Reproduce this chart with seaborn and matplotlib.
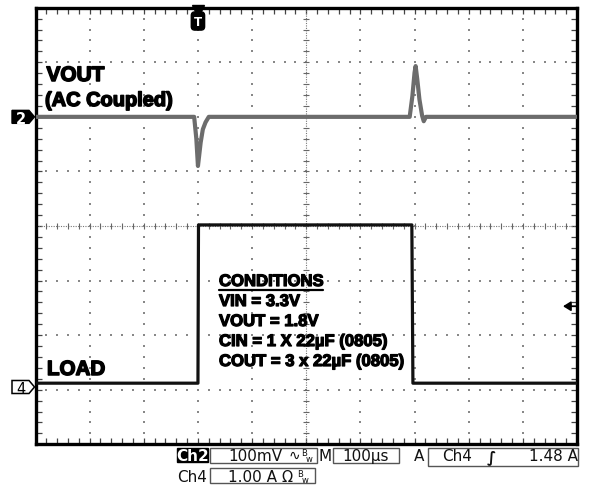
import numpy as np
import pandas as pd
import seaborn as sns
import matplotlib
matplotlib.use("Agg")
import matplotlib.pyplot as plt
from matplotlib.patches import Rectangle, Polygon
from matplotlib.lines import Line2D
import matplotlib.transforms as mtrans
import matplotlib.patheffects as pe

# ---------------- data ----------------
time_per_div_us = 100          # M 100us
ch2_mv_per_div = 100           # Ch2 100mV
ch4_a_per_div = 1.0            # Ch4 1.00 A
ch2_ref_div = 2.0              # ref marker "2"
ch4_ref_div = -2.95            # ref marker "4"
trigger_level_a = 1.48         # A Ch4 rising 1.48 A
x_range_us = [-300, 700]

vout_t_us = [-300, -7, -3, 0, 2, 5, 9, 14, 20, 391, 396, 400, 402, 405, 409, 414, 417, 421, 700]
vout_mv = [0, 0, -40, -90, -73, -47, -23, -10, 0, 0, 38, 81, 93, 69, 32, 2, -8, 0, 0]

load_t_us = [-300, 0, 1, 395, 397, 700]
load_a = [0.07, 0.07, 2.97, 2.97, 0.07, 0.07]

vout_label = ["VOUT", "(AC Coupled)"]
load_label = "LOAD"
cond_title = "CONDITIONS"
cond_lines = ["VIN = 3.3V", "VOUT = 1.8V", "CIN = 1 X 22\u00b5F (0805)", "COUT = 3 x 22\u00b5F (0805)"]

status_ch2 = ["Ch2", "100mV"]
status_time = ["M", "100\u00b5s"]
status_trig = ["A", "Ch4", "1.48 A"]
status_ch4 = ["Ch4", "1.00 A"]

# ---------------- figure ----------------
sns.set_style("white")
plt.rcParams["font.family"] = ["DejaVu Sans"]
W, H = 597, 489
fig = plt.figure(figsize=(W / 100, H / 100), dpi=100)
fig.patch.set_facecolor("white")

L, R, T, B = 35.5, 577.0, 8.7, 445.3
ax = fig.add_axes([L / W, 1 - B / H, (R - L) / W, (B - T) / H])
ax.set_facecolor("white")

def P(px, py):
    return (px / W, 1 - py / H)

xmin, xmax = x_range_us
ax.set_xlim(xmin, xmax)
ax.set_ylim(-4, 4)

# graticule dots
maj_x = np.arange(xmin + time_per_div_us, xmax, time_per_div_us)
maj_y = np.arange(-3, 4, 1)
min_x = np.arange(xmin, xmax + 0.1, time_per_div_us / 5)
min_y = np.arange(-4, 4.01, 0.2)
cx = (xmin + xmax) / 2
gx, gy = [], []
for xv in maj_x:
    if abs(xv - cx) < 1e-6:
        continue
    gx += [xv] * len(min_y)
    gy += list(min_y)
for yv in maj_y:
    if yv == 0:
        continue
    gx += list(min_x)
    gy += [yv] * len(min_x)
ax.scatter(gx, gy, s=1.8, marker="s", color="#888888", linewidths=0, zorder=1)

# center cross with tick marks
ax.axhline(0, ls=(0, (1, 1.2)), lw=0.8, color="#777777", zorder=1)
ax.axvline(cx, ls=(0, (1, 1.2)), lw=0.8, color="#777777", zorder=1)
ax.scatter(min_x, np.zeros_like(min_x), marker="|", s=22, color="#666666", linewidths=0.8, zorder=1)
ax.scatter(np.full_like(min_y, cx), min_y, marker="_", s=22, color="#666666", linewidths=0.8, zorder=1)

# traces
df_v = pd.DataFrame({"t": vout_t_us, "div": ch2_ref_div + np.array(vout_mv) / ch2_mv_per_div})
df_l = pd.DataFrame({"t": load_t_us, "div": ch4_ref_div + np.array(load_a) / ch4_a_per_div})
sns.lineplot(data=df_v, x="t", y="div", sort=False, estimator=None, color="#6c6c6c", lw=3.0, ax=ax, zorder=3)
sns.lineplot(data=df_l, x="t", y="div", sort=False, estimator=None, color="#111111", lw=2.3, ax=ax, zorder=3)

ax.set_xlabel("")
ax.set_ylabel("")
ax.set_xticks(np.arange(xmin, xmax + 1, time_per_div_us))
ax.set_yticks(np.arange(-4, 5, 1))
ax.set_xticks(min_x, minor=True)
ax.set_yticks(min_y, minor=True)
ax.tick_params(which="both", bottom=True, top=True, left=True, right=True, direction="in",
               length=4, width=0.9, color="#444444", labelbottom=False, labelleft=False)
for sp in ax.spines.values():
    sp.set_linewidth(2.4)
    sp.set_color("black")
    sp.set_visible(True)

# trigger position marker (T)
bt = mtrans.blended_transform_factory(ax.transData, ax.transAxes)
ax.plot([0], [1 - (12 - T) / (B - T)], marker="v", ms=8, color="black", transform=bt, clip_on=False, zorder=5)
ax.text(0, 1 - (22 - T) / (B - T), "T", transform=bt, ha="center", va="center", color="white",
        fontsize=8.5, fontweight="bold",
        bbox=dict(boxstyle="round,pad=0.22,rounding_size=0.3", fc="black", ec="black"), zorder=6)

fig.canvas.draw()

def disp_y(div):
    return ax.transData.transform((0, div))[1]

# reference markers
y2 = disp_y(ch2_ref_div)
fig.add_artist(Polygon([(12, y2 - 6.5), (29, y2 - 6.5), (34.5, y2), (29, y2 + 6.5), (12, y2 + 6.5)],
                       closed=True, fc="black", ec="black", lw=1, transform=mtrans.IdentityTransform()))
fig.text(20.5, y2, "2", transform=mtrans.IdentityTransform(), color="white", fontsize=10.5,
         fontweight="bold", ha="center", va="center_baseline")
y4 = disp_y(ch4_ref_div)
fig.add_artist(Polygon([(12, y4 - 6.5), (29, y4 - 6.5), (34.5, y4), (29, y4 + 6.5), (12, y4 + 6.5)],
                       closed=True, fc="white", ec="black", lw=1.1, transform=mtrans.IdentityTransform()))
fig.text(20.5, y4, "4", transform=mtrans.IdentityTransform(), color="black", fontsize=10.5,
         ha="center", va="center_baseline")

# trigger level arrow
yt = disp_y(ch4_ref_div + trigger_level_a / ch4_a_per_div)
ax.annotate("", xy=(563, yt), xytext=(576, yt), xycoords="figure pixels", textcoords="figure pixels",
            arrowprops=dict(arrowstyle="-|>,head_length=0.45,head_width=0.28", lw=1.3, color="black",
                            shrinkA=0, shrinkB=0), annotation_clip=False)

# channel labels (heavy condensed look)
heavy = [pe.withStroke(linewidth=1.1, foreground="black")]
lab_font = dict(family=["Liberation Sans", "DejaVu Sans"], fontweight="bold", color="black",
                path_effects=heavy)
fig.text(*P(46.5, 82), vout_label[0], fontsize=15, va="baseline", **lab_font)
fig.text(*P(45, 107), vout_label[1], fontsize=14.4, va="baseline", **lab_font)
fig.text(*P(47, 376), load_label, fontsize=14.8, va="baseline", **lab_font)

# conditions block
cf = dict(family=["Liberation Sans", "DejaVu Sans"], fontweight="bold", color="black", fontsize=12,
          va="baseline", path_effects=[pe.withStroke(linewidth=0.9, foreground="black")])
ttl = fig.text(*P(219, 287), cond_title, **cf)
for i, s in enumerate(cond_lines):
    fig.text(*P(219, 307 + 20 * i), s, **cf)
fig.canvas.draw()
bb = ttl.get_window_extent()
fig.add_artist(Line2D([bb.x0, bb.x1], [bb.y0 - 0.5, bb.y0 - 0.5], lw=1.6, color="black",
                      transform=mtrans.IdentityTransform()))

# status bar
def box(x0, x1, y0, y1, fc="white", ec="#555555", lw=1.0):
    fig.add_artist(Rectangle(P(x0, y1), (x1 - x0) / W, (y1 - y0) / H, transform=fig.transFigure,
                             fc=fc, ec=ec, lw=lw))

sf = dict(fontsize=11, va="baseline", color="#111111")
box(177, 208, 449, 462.5, fc="black", ec="black")
fig.text(*P(192.5, 461), status_ch2[0], ha="center", color="white", fontsize=11, va="baseline", fontweight="bold")
box(210, 317, 448.5, 463.5)
fig.text(*P(228, 461), status_ch2[1], **sf)
fig.text(*P(289, 460), "\u223f", fontsize=10, va="baseline", color="#111111")
fig.text(*P(301, 456), "B", fontsize=6, va="baseline", color="#111111")
fig.text(*P(306, 462), "w", fontsize=6, va="baseline", color="#111111")
fig.text(*P(318.5, 461), status_time[0], **sf)
box(333, 399, 448.5, 463.5)
fig.text(*P(366, 461), status_time[1], ha="center", **sf)
fig.text(*P(414, 461), status_trig[0], **sf)
box(428, 578, 449, 466.5)
fig.text(*P(442, 461), status_trig[1], **sf)
fig.text(*P(491, 461), "\u222b", ha="center", fontsize=11, va="baseline", color="#111111",
         fontweight="bold", fontstyle="italic")
fig.text(*P(578, 461), status_trig[2], ha="right", **sf)

fig.text(*P(177, 482.5), status_ch4[0], **sf)
box(210, 315, 469, 484)
fig.text(*P(228, 482.5), status_ch4[1], **sf)
fig.text(*P(281, 482.5), "\u03a9", fontsize=10.5, va="baseline", color="#111111")
fig.text(*P(297, 477), "B", fontsize=6, va="baseline", color="#111111")
fig.text(*P(302, 483), "w", fontsize=6, va="baseline", color="#111111")

fig.savefig("out.png", dpi=100, facecolor="white")
